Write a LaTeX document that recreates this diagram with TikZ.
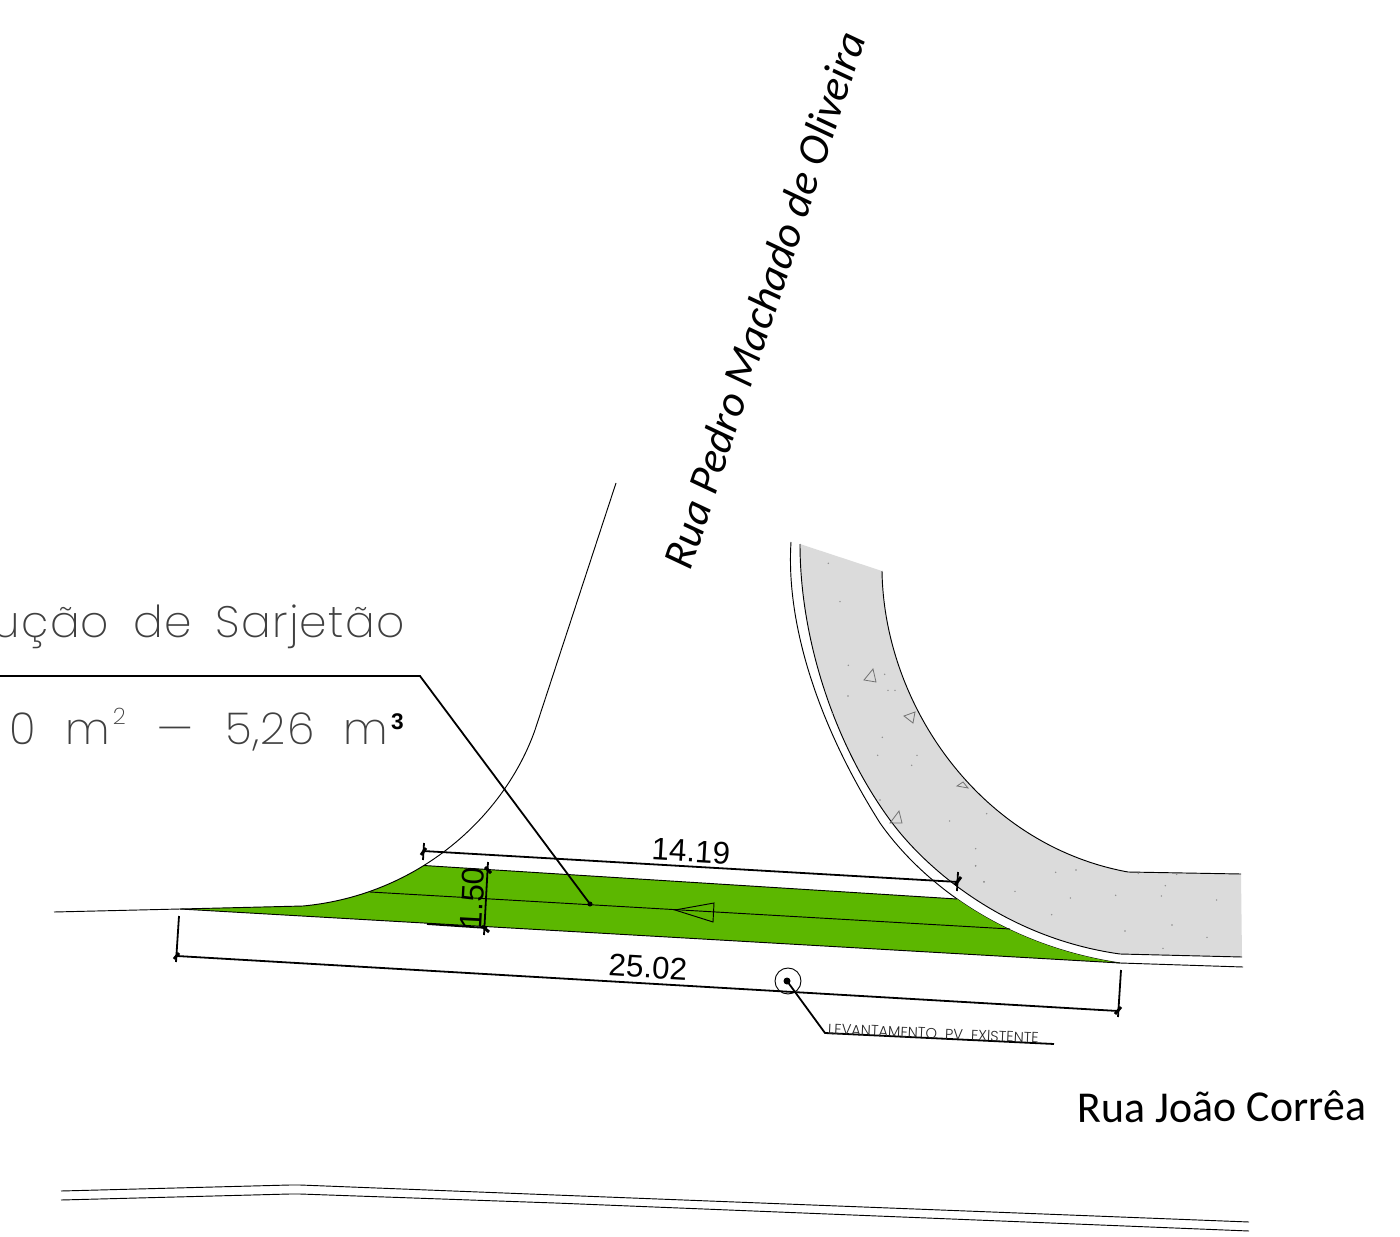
\documentclass[tikz,border=0pt]{standalone}
\usepackage{fontspec}
\setmainfont{Liberation Sans}
\newfontfamily\calfont{Carlito}
\newfontfamily\cadfont[LetterSpace=3]{Poppins ExtraLight}
\newfontfamily\cadsmall{Poppins Light}
\definecolor{grn}{HTML}{5CB700}
\definecolor{pave}{HTML}{DBDBDB}
\definecolor{cadgray}{HTML}{404040}
\tikzset{
  thin line/.style={line width=0.7pt,black},
  dim line/.style={line width=1.35pt,black},
  slash/.style={line width=2.2pt,black},
  pave mark/.style={line width=0.6pt,draw=black!55},
  cad text/.style={inner sep=0pt,text=cadgray,font=\cadfont\fontsize{33}{33}\selectfont},
  dim text/.style={inner sep=0pt,font=\fontsize{23.5}{24}\selectfont},
  street/.style={inner sep=0pt,font=\calfont\fontsize{33}{33}\selectfont}
}
\begin{document}
\begin{tikzpicture}[x=0.75pt,y=-0.75pt]
\useasboundingbox (0,0) rectangle (1400,1237);
% paved area
\fill[pave] (800,544) .. controls (800,640) and (835,745) .. (890,820)
  .. controls (925,868) and (1005,938) .. (1120,954)
  -- (1242,957) -- (1241,874) -- (1128,872)
  .. controls (980,845) and (884,705) .. (882,571) -- cycle;
\draw[thin line] (800,544) .. controls (800,640) and (835,745) .. (890,820)
  .. controls (925,868) and (1005,938) .. (1120,954) -- (1242,957);
\draw[thin line] (1241,874) -- (1128,872) .. controls (980,845) and (884,705) .. (882,571);
\draw[thin line] (791,542) .. controls (786,620) and (815,720) .. (880,823)
  .. controls (920,880) and (1000,945) .. (1120,963) -- (1243,967);
% marks in the pavement
\draw[pave mark] (873,669) -- (864,680) -- (876,682) -- cycle;
\draw[pave mark] (904,716) -- (915,712) -- (913,723) -- cycle;
\draw[pave mark] (957,786) -- (963,782) -- (968,788) -- cycle;
\draw[pave mark] (899,811) -- (890,823) -- (902,823) -- cycle;
\foreach \x/\y in {145/100,180/215,205/406,204/498,157/551,314/433,324/481,345/481,307/622,293/676,411/676,395/706,300/810,509/873,620/851,587/956,587/1008,612/1055}
  \fill[black!45] ({780+\x/3},{530+\y/3}) circle (0.8);
\foreach \x/\y in {107/47,132/96,225/124,347/67,408/60,595/70,710/73,676/107,527/136,664/138,391/144,830/150,335/194,696/225,555/243,801/262,669/295}
  \fill[black!45] ({940+\x/3},{850+\y/3}) circle (0.8);
% green strip
\fill[grn] (180,909) -- (303,906) .. controls (348.6,901.7) and (389.4,887.1) .. (423.9,865.5)
  -- (957,899) .. controls (999.1,928.5) and (1053.4,953) .. (1120,963) -- cycle;
\draw[thin line] (423.9,865.5) -- (957,899);
\draw[thin line] (180,909) -- (1120,963);
\draw[thin line] (370,892) -- (1010,929);
\draw[thin line] (675,910) -- (714,903) -- (713,922) -- cycle;
% left kerb
\draw[thin line] (54,912) -- (180,909) -- (303,906) .. controls (420,895) and (505,815) .. (535,730) -- (616,483);
% bottom kerb
\draw[thin line] (61,1191) -- (290,1185) -- (300,1185) -- (555,1195) -- (1249,1222);
\draw[thin line] (61,1200) -- (290,1194) -- (300,1194) -- (555,1203) -- (1249,1231);
% dimensions
\draw[dim line] (423,851) -- (958,882);
\draw[dim line] (424,843) -- (423,860);
\draw[slash] (421,855) -- (426,848);
\draw[dim line] (958,872) -- (957,891);
\draw[slash] (955,885) -- (961,877);
\draw[dim line] (177,956) -- (1118,1011);
\draw[dim line] (179,916) -- (176,962);
\draw[slash] (174,959) -- (179,953);
\draw[dim line] (1121,970) -- (1118,1017);
\draw[slash] (1115,1014) -- (1121,1007);
\draw[dim line] (488,862) -- (484,935);
\draw[slash] (485,867) -- (491,873);
\draw[slash] (482,926) -- (489,932);
\draw[dim line] (427,924) -- (487,928);
\node[dim text,rotate=-3.3] (d1419) at (691,851) {14.19};
\node[dim text,rotate=-3.3] (d2502) at (648,967) {25.02};
\node[dim text,rotate=87] (d150) at (472.5,898) {1.50};
% leader with annotation
\coordinate (leadA) at (0,676);
\coordinate (leadB) at (420,676);
\coordinate (leadC) at (590,904);
\draw[dim line] (leadA) -- (leadB) -- (leadC);
\fill (leadC) circle (2.5);
\node[cad text,anchor=base east] (title) at (405,637) {ução\hspace{18pt}de\hspace{18pt}Sarjetão};
\node[cad text,anchor=base east] (qty) at (404,744) {0\hspace{22pt}m\hspace{2pt}\raisebox{15pt}{\fontsize{17}{17}\selectfont 2}\hspace{24pt}—\hspace{24pt}5,26\hspace{22pt}m\hspace{2pt}\raisebox{11pt}{\normalfont\bfseries\color{black}\fontsize{17}{17}\selectfont 3}};
% manhole
\node[circle,draw=black,line width=0.7pt,minimum size=19.5pt,inner sep=0pt] (pv) at (788,981) {};
\coordinate (pvdot) at (787,981);
\fill (pvdot) circle (3.5);
\coordinate (pvB) at (825,1033);
\coordinate (pvC) at (1054,1044);
\draw[dim line] (pvdot) -- (pvB) -- (pvC);
\node[inner sep=0pt,text=black!85,rotate=-2.5,font=\cadsmall\fontsize{11}{11}\selectfont] (pvtxt) at (933.5,1033.5) {LEVANTAMENTO\ \ PV\ \ EXISTENTE};
% street names
\node[street,rotate=71.8] (s1) at (764,300) {\itshape Rua Pedro Machado de Oliveira};
\node[street,rotate=0.5] (s2) at (1222,1107) {Rua João Corrêa};
\end{tikzpicture}
\end{document}
